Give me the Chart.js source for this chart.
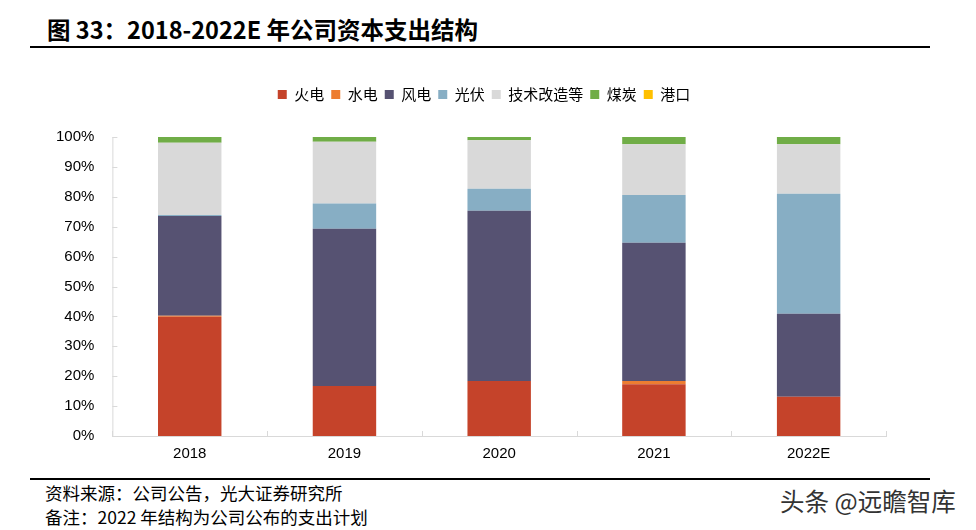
<!DOCTYPE html>
<html><head><meta charset="utf-8">
<script src="https://cdn.jsdelivr.net/npm/chart.js@4.4.0/dist/chart.umd.min.js"></script>
<style>
html,body{margin:0;padding:0;background:#fff;width:976px;height:530px;overflow:hidden;font-family:"Noto Sans CJK SC","Noto Sans",sans-serif;}
#title{position:absolute;left:47px;top:12px;font-size:23.5px;font-weight:bold;color:#000;white-space:nowrap;}
#line1{position:absolute;left:30px;top:46px;width:900px;height:2px;background:#000;}
#line2{position:absolute;left:30px;top:478px;width:900px;height:2px;background:#000;}
#src{position:absolute;left:45px;top:480px;font-size:17.5px;color:#000;white-space:nowrap;}
#note{position:absolute;left:45px;top:504px;font-size:17.5px;color:#000;white-space:nowrap;}
#wm{position:absolute;left:780px;top:483px;font-size:24.5px;color:#333;white-space:nowrap;}
#wrap{position:absolute;left:0;top:55px;width:976px;height:420px;}
</style></head>
<body>
<div id="title">图 33：2018-2022E 年公司资本支出结构</div>
<div id="line1"></div>
<div id="wrap"><canvas id="c" width="976" height="420"></canvas></div>
<div id="line2"></div>
<div id="src">资料来源：公司公告，光大证券研究所</div>
<div id="note">备注：2022 年结构为公司公布的支出计划</div>
<div id="wm">头条 @远瞻智库</div>
<script>
const categories = ["2018","2019","2020","2021","2022E"];
const seriesNames = ["火电","水电","风电","光伏","技术改造等","煤炭","港口"];
const thermal = [39.9, 16.7, 18.4, 17.3, 13.1];
const hydro = [0.3, 0.0, 0.0, 1.1, 0.0];
const wind = [33.4, 52.6, 56.9, 46.2, 27.8];
const solar = [0.3, 8.5, 7.4, 16.0, 40.1];
const techReform = [24.2, 20.6, 16.2, 17.0, 16.6];
const coal = [1.9, 1.6, 1.1, 2.4, 2.4];
const port = [0, 0, 0, 0, 0];
const yTicks = [0,10,20,30,40,50,60,70,80,90,100];
const colors = ["#C5432A","#ED7D31","#565272","#87AEC4","#D9D9D9","#70AD47","#FFC000"];
const allSeries = [thermal, hydro, wind, solar, techReform, coal, port];

const legendGap = {
  id:'legendGap',
  beforeInit(chart){
    const orig = chart.legend.fit;
    chart.legend.fit = function(){ orig.bind(chart.legend)(); this.height += 25; };
  },
  afterLayout(chart){
    chart.legend.left += 18; chart.legend.right += 18;
  }
};
const innerTicks = {
  id:'innerTicks',
  afterDatasetsDraw(chart){
    const ctx = chart.ctx, xs = chart.scales.x, ys = chart.scales.y, a = chart.chartArea;
    ctx.save();
    ctx.strokeStyle = '#D9D9D9'; ctx.lineWidth = 1;
    ctx.beginPath();
    ctx.moveTo(a.left+0.5, a.bottom); ctx.lineTo(a.left+0.5, a.top);
    yTicks.forEach(v=>{ const y = Math.round(ys.getPixelForValue(v))+0.5; ctx.moveTo(a.left, y); ctx.lineTo(a.left+5, y); });
    for(let i=0;i<=categories.length;i++){
      const x = Math.round(xs.getPixelForValue(i-0.5))+0.5;
      ctx.moveTo(x, a.bottom); ctx.lineTo(x, a.bottom-5);
    }
    ctx.stroke();
    ctx.restore();
  }
};

new Chart(document.getElementById('c'), {
  type: 'bar',
  data: {
    labels: categories,
    datasets: allSeries.map((d,i)=>({label: seriesNames[i], data: d, backgroundColor: colors[i], borderWidth:0,
      categoryPercentage:1, barPercentage:0.41}))
  },
  options: {
    responsive:false, animation:false,
    layout:{padding:{left:46,right:90,top:25,bottom:11}},
    plugins:{
      legend:{position:'top', labels:{boxWidth:9, boxHeight:9, padding:7, color:'#000', font:{size:15, family:'"Noto Sans CJK SC", sans-serif'}}},
      tooltip:{enabled:false}
    },
    scales:{
      x:{stacked:true, grid:{display:false},
         border:{display:true, color:'#D9D9D9', width:1},
         ticks:{color:'#000', padding:1, font:{size:15, family:'"Liberation Sans", sans-serif'}}},
      y:{stacked:true, min:0, max:100, grid:{display:false}, border:{display:false},
         afterBuildTicks: (ax)=>{ ax.ticks = yTicks.map(v=>({value:v})); },
         ticks:{color:'#000', padding:10, callback:v=>v+'%', font:{size:15, family:'"Liberation Sans", sans-serif'}}}
    }
  },
  plugins:[legendGap, innerTicks]
});
</script>
</body></html>
